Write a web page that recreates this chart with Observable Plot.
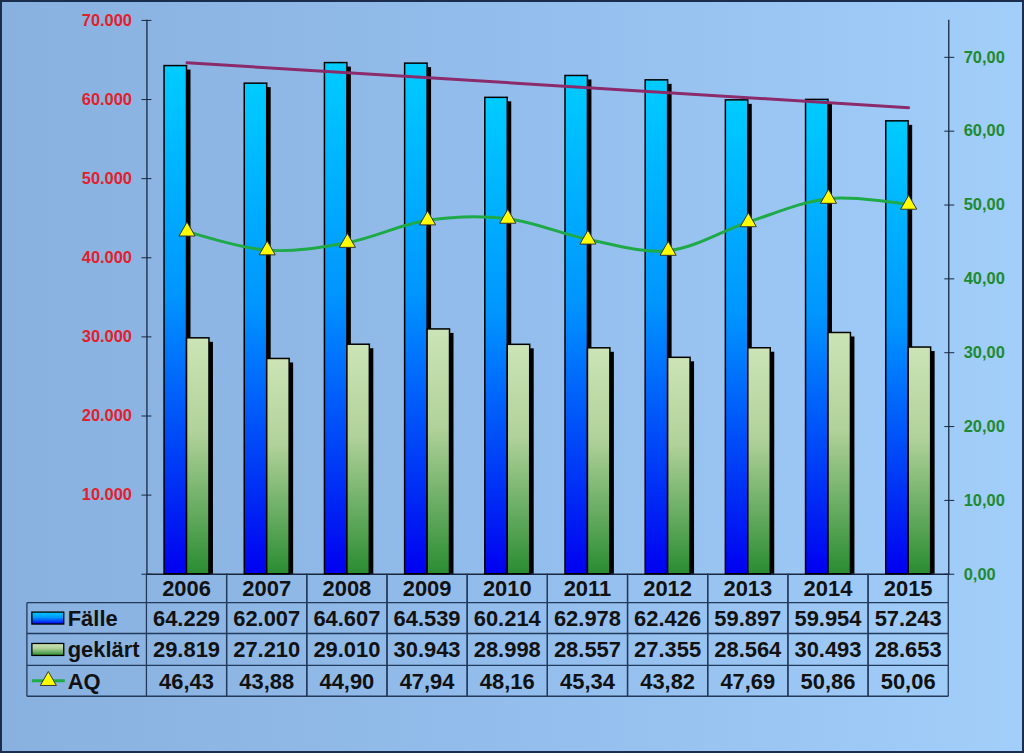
<!DOCTYPE html>
<html><head><meta charset="utf-8">
<script src="https://cdn.jsdelivr.net/npm/d3@7"></script>
<script src="https://cdn.jsdelivr.net/npm/@observablehq/plot@0.6"></script>
<style>
html,body{margin:0;padding:0;background:#fff;}
#wrap{position:relative;width:1024px;height:753px;box-sizing:border-box;border:2px solid #1b2d4d;
  background:linear-gradient(90deg,#89b1df 0%,#93bdec 50%,#a2cefa 100%);overflow:hidden;}
#wrap svg{position:absolute;left:-2px;top:-2px;}
</style></head>
<body><div id="wrap"></div>
<script>
const years = [2006,2007,2008,2009,2010,2011,2012,2013,2014,2015];
const faelle = [64229,62007,64607,64539,60214,62978,62426,59897,59954,57243];
const geklaert = [29819,27210,29010,30943,28998,28557,27355,28564,30493,28653];
const aq = [46.43,43.88,44.90,47.94,48.16,45.34,43.82,47.69,50.86,50.06];
const leftTicks = [0,10000,20000,30000,40000,50000,60000,70000];
const rightTicks = [0,10,20,30,40,50,60,70];
const leftMax = 70000, rightMax = 75;
const seriesNames = ["Fälle","geklärt","AQ"];

const k = leftMax / rightMax;
const de = d3.formatLocale({decimal: ",", thousands: ".", grouping: [3], currency: ["", "€"]});
const fmtInt = de.format(",d");
const fmt2 = de.format(".2f");

const rows = years.map((year, i) => ({year, faelle: faelle[i], geklaert: geklaert[i], aq: aq[i]}));
const bw = 0.28;
const FONT = "'Liberation Sans', Arial, sans-serif";

const chart = Plot.plot({
  width: 1024, height: 753,
  marginLeft: 147, marginRight: 72, marginTop: 20, marginBottom: 177,
  style: {background: "transparent", fontFamily: FONT, fontSize: "16.5px", fontWeight: "bold", overflow: "visible"},
  x: {type: "linear", domain: [d3.min(years) - 0.5, d3.max(years) + 0.5], axis: null},
  y: {domain: [0, leftMax], axis: null},
  marks: [
    Plot.frame({anchor: "left", stroke: "#17263f", strokeWidth: 1.3}),
    Plot.frame({anchor: "right", stroke: "#17263f", strokeWidth: 1.3}),
    Plot.frame({anchor: "bottom", stroke: "#17263f", strokeWidth: 1.3}),
    Plot.axisY(leftTicks, {anchor: "left", tickSize: 10, dx: 5, tickPadding: 10,
      tickFormat: d => d === 0 ? "" : fmtInt(d), stroke: "#17263f", fill: "#e3202a", label: null}),
    Plot.axisY(rightTicks.map(v => v * k), {anchor: "right", tickSize: 10, dx: -5, tickPadding: 10,
      tickFormat: d => fmt2(d / k), stroke: "#17263f", fill: "#1e8a2e", label: null}),
    // shadows + bars
    Plot.rect(rows, {x1: d => d.year - bw, x2: d => d.year, y1: 0, y2: "faelle", fill: "black", dx: 4, dy: 4, insetBottom: 4}),
    Plot.rect(rows, {x1: d => d.year - bw, x2: d => d.year, y1: 0, y2: "faelle", fill: "url(#gF)", stroke: "black", strokeWidth: 1.5}),
    Plot.rect(rows, {x1: d => d.year, x2: d => d.year + bw, y1: 0, y2: "geklaert", fill: "black", dx: 4, dy: 4, insetBottom: 4}),
    Plot.rect(rows, {x1: d => d.year, x2: d => d.year + bw, y1: 0, y2: "geklaert", fill: "url(#gG)", stroke: "black", strokeWidth: 1.5}),
    Plot.linearRegressionY(rows, {x: "year", y: "faelle", stroke: "#8b2b6b", strokeWidth: 3, ci: 0}),
    Plot.line(rows, {x: "year", y: d => d.aq * k, stroke: "#1faa48", strokeWidth: 3, curve: "catmull-rom"}),
    Plot.dot(rows, {x: "year", y: d => d.aq * k, symbol: "triangle", r: 6, fill: "#ffff00", stroke: "#333", strokeWidth: 1})
  ]
});

document.getElementById("wrap").appendChild(chart);

const svg = d3.select(chart);
const defs = svg.insert("defs", ":first-child");
function grad(id, stops) {
  const g = defs.append("linearGradient").attr("id", id).attr("x1", 0).attr("y1", 0).attr("x2", 0).attr("y2", 1);
  stops.forEach(([o, c]) => g.append("stop").attr("offset", o).attr("stop-color", c));
}
grad("gF", [[0, "#00ccff"], [0.45, "#0096ff"], [1, "#0000f0"]]);
grad("gG", [[0, "#cce4b6"], [0.4, "#b1d29a"], [1, "#2a8c32"]]);

// data table
const xs = chart.scale("x");
const yb = chart.scale("y").apply(0);
const edges = [yb, yb + 29, yb + 60, yb + 92, yb + 123];
const xLeft = 27, xRight = xs.apply(d3.max(years) + 0.5);
const t = svg.append("g").attr("font-family", FONT).attr("font-weight", "bold").attr("font-size", 22).attr("text-anchor", "middle");
const lc = "#22395a";
edges.slice(1).forEach(yy => t.append("line").attr("x1", xLeft).attr("x2", xRight).attr("y1", yy).attr("y2", yy).attr("stroke", lc).attr("stroke-width", 1.3));
t.append("line").attr("x1", xLeft).attr("x2", xLeft).attr("y1", edges[1]).attr("y2", edges[4]).attr("stroke", lc).attr("stroke-width", 1.3);
years.forEach(yr => {
  [yr - 0.5, yr + 0.5].forEach(v => t.append("line").attr("x1", xs.apply(v)).attr("x2", xs.apply(v)).attr("y1", edges[0]).attr("y2", edges[4]).attr("stroke", lc).attr("stroke-width", 1.3));
});
const mid = i => (edges[i] + edges[i + 1]) / 2 + 8;
rows.forEach(d => {
  const cx = xs.apply(d.year);
  t.append("text").attr("x", cx).attr("y", mid(0)).attr("fill", "#111").text(d.year);
  t.append("text").attr("x", cx).attr("y", mid(1)).attr("fill", "#111").text(fmtInt(d.faelle));
  t.append("text").attr("x", cx).attr("y", mid(2)).attr("fill", "#111").text(fmtInt(d.geklaert));
  t.append("text").attr("x", cx).attr("y", mid(3)).attr("fill", "#111").text(fmt2(d.aq));
});
seriesNames.forEach((name, i) => {
  t.append("text").attr("x", 68).attr("y", mid(i + 1)).attr("text-anchor", "start").attr("fill", "#111").text(name);
});
const cy = i => (edges[i] + edges[i + 1]) / 2;
t.append("rect").attr("x", 32).attr("y", cy(1) - 6).attr("width", 32).attr("height", 12).attr("fill", "url(#gF)").attr("stroke", "black").attr("stroke-width", 1.3);
t.append("rect").attr("x", 32).attr("y", cy(2) - 6).attr("width", 32).attr("height", 12).attr("fill", "url(#gG)").attr("stroke", "black").attr("stroke-width", 1.3);
t.append("line").attr("x1", 32).attr("x2", 65).attr("y1", cy(3)).attr("y2", cy(3)).attr("stroke", "#1faa48").attr("stroke-width", 3);
t.append("path").attr("d", d3.symbol(d3.symbolTriangle, Math.PI * 6 * 6)()).attr("transform", `translate(48.5,${cy(3)})`).attr("fill", "#ffff00").attr("stroke", "#333");
</script>
</body></html>
